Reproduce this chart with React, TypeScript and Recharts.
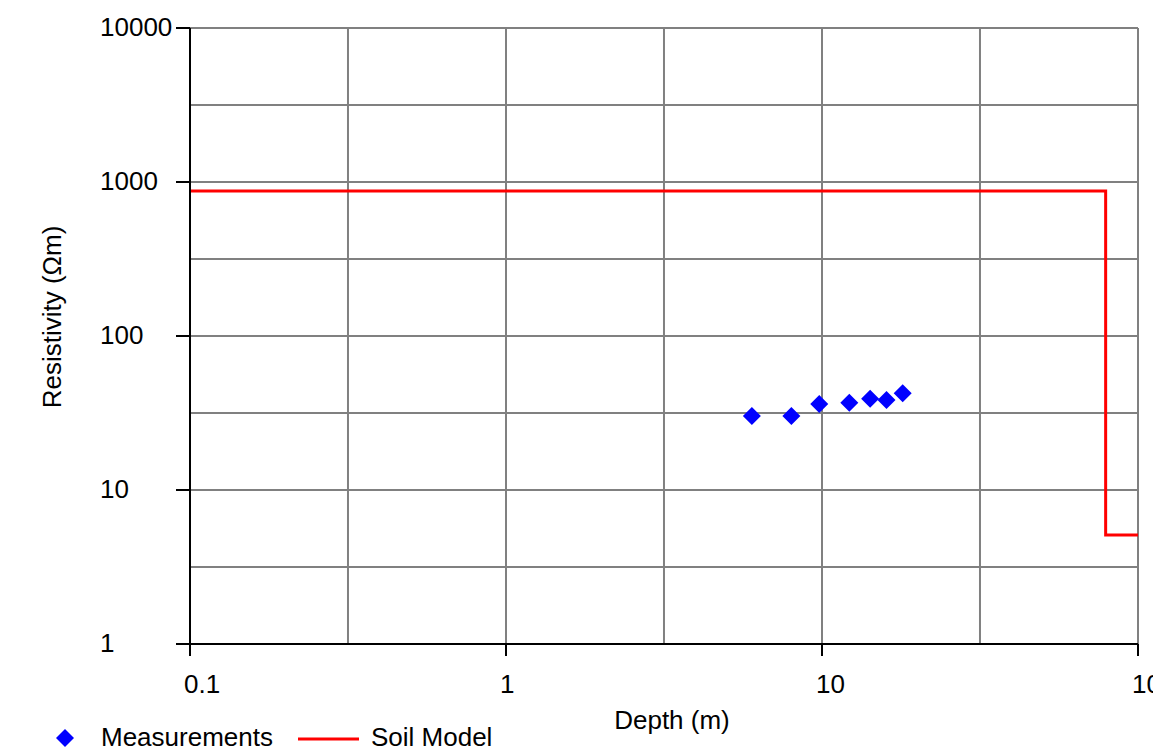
import { ComposedChart, Line, Scatter, XAxis, YAxis, ReferenceLine, Label } from 'recharts'

// Apparent resistivity measurements (depth m, resistivity Ωm)
const measDepth = [6.0, 8.0, 9.8, 12.2, 14.2, 16.0, 18.0]
const measRho = [30.2, 30.2, 36.2, 36.9, 39.2, 38.4, 42.5]

// Two-layer soil model drawn as a step
const modelDepth = [0.1, 79, 79, 100]
const modelRho = [875, 875, 5.1, 5.1]

const xTicks = [0.1, 1, 10, 100]
const yTicks = [1, 10, 100, 1000, 10000]
const xGrid = [0.3162, 1, 3.162, 10, 31.62, 100]
const yGrid = [3.162, 10, 31.62, 100, 316.2, 1000, 3162, 10000]

const measurements = measDepth.map((d, i) => ({ depth: d, rho: measRho[i] }))
const soilModel = modelDepth.map((d, i) => ({ depth: d, rho: modelRho[i] }))

const FONT = "'Liberation Sans', Arial, sans-serif"
const FS = 26

const Diamond = (props: any) => {
  const { cx, cy } = props
  const r = 9
  return <polygon points={`${cx},${cy - r} ${cx + r},${cy} ${cx},${cy + r} ${cx - r},${cy}`} fill="#0000ff" />
}

const XTick = ({ x, y, payload }: any) => (
  <text x={x - 6} y={y + 35} textAnchor="start" fontSize={FS} fontFamily={FONT} fill="#000">
    {payload.value}
  </text>
)

const YTick = ({ x, y, payload }: any) => (
  <text x={x - 76} y={y + 8} textAnchor="start" fontSize={FS} fontFamily={FONT} fill="#000">
    {payload.value}
  </text>
)

export default function App() {
  return (
    <div style={{ position: 'absolute', left: 0, top: 0, width: 1153, height: 751, overflow: 'hidden', background: '#fff' }}>
      <ComposedChart width={1200} height={751} margin={{ top: 28, right: 62, bottom: 0, left: 0 }}>
        <XAxis
          dataKey="depth"
          type="number"
          scale="log"
          domain={[0.1, 100]}
          ticks={xTicks}
          allowDataOverflow
          height={107}
          axisLine={{ stroke: '#000', strokeWidth: 2 }}
          tickLine={{ stroke: '#000', strokeWidth: 2 }}
          tickSize={12}
          tickMargin={2}
          tick={<XTick />}
        >
          <Label
            content={({ viewBox }: any) => (
              <text x={viewBox.x + viewBox.width / 2 + 8} y={viewBox.y + 85} textAnchor="middle" fontSize={FS} fontFamily={FONT} fill="#000">
                Depth (m)
              </text>
            )}
          />
        </XAxis>
        <YAxis
          dataKey="rho"
          type="number"
          scale="log"
          domain={[1, 10000]}
          ticks={yTicks}
          allowDataOverflow
          width={190}
          axisLine={{ stroke: '#000', strokeWidth: 2 }}
          tickLine={{ stroke: '#000', strokeWidth: 2 }}
          tickSize={14}
          tickMargin={0}
          tick={<YTick />}
        >
          <Label
            content={({ viewBox }: any) => {
              const cx = viewBox.x + 52
              const cy = viewBox.y + viewBox.height / 2 - 19
              return (
                <text x={cx} y={cy} transform={`rotate(-90 ${cx} ${cy})`} dy={9} textAnchor="middle" fontSize={FS} fontFamily={FONT} fill="#000">
                  Resistivity (Ωm)
                </text>
              )
            }}
          />
        </YAxis>
        {xGrid.map((v) => (
          <ReferenceLine key={'x' + v} x={v} stroke="#808080" strokeWidth={2} />
        ))}
        {yGrid.map((v) => (
          <ReferenceLine key={'y' + v} y={v} stroke="#808080" strokeWidth={2} />
        ))}
        <Line
          data={soilModel}
          dataKey="rho"
          type="linear"
          stroke="#ff0000"
          strokeWidth={3}
          dot={false}
          activeDot={false}
          isAnimationActive={false}
        />
        <Scatter data={measurements} dataKey="rho" shape={<Diamond />} isAnimationActive={false} />
      </ComposedChart>
      <svg width={1153} height={751} style={{ position: 'absolute', left: 0, top: 0, pointerEvents: 'none' }}>
        <polygon points="65,729 74,738 65,747 56,738" fill="#0000ff" />
        <text x={101} y={746} fontSize={FS} fontFamily={FONT} fill="#000">Measurements</text>
        <line x1={298} y1={739} x2={359} y2={739} stroke="#ff0000" strokeWidth={3} />
        <text x={371} y={746} fontSize={FS} fontFamily={FONT} fill="#000">Soil Model</text>
      </svg>
    </div>
  )
}
